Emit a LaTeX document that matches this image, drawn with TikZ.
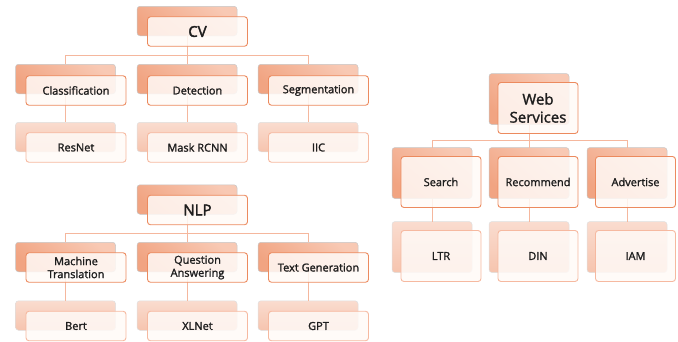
\documentclass[tikz,border=0pt]{standalone}
\usepackage{fontspec}
\setmainfont{Open Sans}[FakeBold=1.6]
\newfontfamily\titlefont{Open Sans}[FakeBold=2.4]
\usetikzlibrary{positioning}
\definecolor{bkA}{HTML}{F8C9B4}
\definecolor{bkB}{HTML}{F1A482}
\definecolor{bkC}{HTML}{FADCCF}
\definecolor{bkD}{HTML}{F6C4AE}
\definecolor{frEdge}{HTML}{EC8A5E}
\definecolor{frEdgeL}{HTML}{F6B9A0}
\definecolor{frFill}{HTML}{FFFAF7}
\definecolor{conn}{HTML}{F5B79D}
\definecolor{txt}{HTML}{1E1E1E}
\begin{document}
\begin{tikzpicture}[x=1pt,y=-1pt,
  every node/.style={inner sep=0pt, outer sep=0pt},
  backbox/.style={draw=gray!45, line width=0.5pt, rounded corners=3pt,
    top color=bkA, bottom color=bkB, shading angle=-40},
  backboxL/.style={backbox, draw=gray!25, top color=bkC, bottom color=bkD},
  frontbox/.style={draw=frEdge, line width=0.9pt, rounded corners=3pt,
    fill=frFill, fill opacity=0.85, text opacity=1, text=txt,
    align=center, font=\fontsize{11}{13}\selectfont},
  frontboxL/.style={frontbox, draw=frEdgeL},
  titlebox/.style={frontbox, font=\fontsize{15}{18}\selectfont\titlefont},
  wide/.style={minimum width=100pt, minimum height=29.5pt},
  tall/.style={minimum width=80pt, minimum height=51pt},
  conline/.style={draw=conn, line width=1pt}
]
\useasboundingbox (0,0) rectangle (678,341);

% ---------- CV ----------
\coordinate (cvbar) at (0,55);
\node[backbox,wide] (cvB) at (187,21) {};
\node[backbox,wide] (clsB) at (65.5,79) {};
\node[backbox,wide] (detB) at (187,79) {};
\node[backbox,wide] (segB) at (308,79) {};
\node[backboxL,wide] (resB) at (65.5,137) {};
\node[backboxL,wide] (maskB) at (187,137) {};
\node[backboxL,wide] (iicB) at (308,137) {};
\draw[conline] (cvB.south) -- (cvB.south |- cvbar);
\draw[conline] (clsB.north) -- (clsB.north |- cvbar) -- (segB.north |- cvbar) -- (segB.north);
\draw[conline] (detB.north) -- (detB.north |- cvbar);
\draw[conline] (clsB.south) -- (resB.north);
\draw[conline] (detB.south) -- (maskB.north);
\draw[conline] (segB.south) -- (iicB.north);
\node[titlebox,wide] (cv) at (197.5,31.5) {CV};
\node[frontbox,wide] (cls) at (76,90.5) {Classification};
\node[frontbox,wide] (det) at (197.5,90.5) {Detection};
\node[frontbox,wide] (seg) at (318.5,90.5) {Segmentation};
\node[frontboxL,wide] (res) at (76,147.5) {ResNet};
\node[frontboxL,wide] (mask) at (197.5,147.5) {Mask RCNN};
\node[frontboxL,wide] (iic) at (318.5,147.5) {IIC};

% ---------- NLP ----------
\coordinate (nlpbar) at (0,233);
\node[backbox,wide] (nlpB) at (187,199.5) {};
\node[backbox,wide] (mtB) at (65.5,257) {};
\node[backbox,wide] (qaB) at (187,257) {};
\node[backbox,wide] (tgB) at (308,257) {};
\node[backboxL,wide] (bertB) at (65.5,315.5) {};
\node[backboxL,wide] (xlB) at (187,315.5) {};
\node[backboxL,wide] (gptB) at (308,315.5) {};
\draw[conline] (nlpB.south) -- (nlpB.south |- nlpbar);
\draw[conline] (mtB.north) -- (mtB.north |- nlpbar) -- (tgB.north |- nlpbar) -- (tgB.north);
\draw[conline] (qaB.north) -- (qaB.north |- nlpbar);
\draw[conline] (mtB.south) -- (bertB.north);
\draw[conline] (qaB.south) -- (xlB.north);
\draw[conline] (tgB.south) -- (gptB.north);
\node[titlebox,wide] (nlp) at (197.5,210) {NLP};
\node[frontbox,wide] (mt) at (76,267.5) {Machine\\Translation};
\node[frontbox,wide] (qa) at (197.5,267.5) {Question\\Answering};
\node[frontbox,wide] (tg) at (318.5,267.5) {Text Generation};
\node[frontboxL,wide] (bert) at (76,326) {Bert};
\node[frontboxL,wide] (xl) at (197.5,326) {XLNet};
\node[frontboxL,wide] (gpt) at (318.5,326) {GPT};

% ---------- Web Services ----------
\coordinate (wsbar) at (0,140);
\node[backbox,tall] (wsB) at (529,99) {};
\node[backbox,tall] (srB) at (432,173) {};
\node[backbox,tall] (rcB) at (529,173) {};
\node[backbox,tall] (adB) at (627,173) {};
\node[backboxL,tall] (ltrB) at (432,247) {};
\node[backboxL,tall] (dinB) at (529,247) {};
\node[backboxL,tall] (iamB) at (627,247) {};
\draw[conline] (wsB.south) -- (wsB.south |- wsbar);
\draw[conline] (srB.north) -- (srB.north |- wsbar) -- (adB.north |- wsbar) -- (adB.north);
\draw[conline] (rcB.north) -- (rcB.north |- wsbar);
\draw[conline] (srB.south) -- (ltrB.north);
\draw[conline] (rcB.south) -- (dinB.north);
\draw[conline] (adB.south) -- (iamB.north);
\node[frontbox,tall,font=\fontsize{15}{18}\selectfont] (ws) at (538,108) {Web\\Services};
\node[frontbox,tall] (sr) at (441,182) {Search};
\node[frontbox,tall] (rc) at (538,182) {Recommend};
\node[frontbox,tall] (ad) at (635.5,182) {Advertise};
\node[frontboxL,tall] (ltr) at (441,256) {LTR};
\node[frontboxL,tall] (din) at (538,256) {DIN};
\node[frontboxL,tall] (iam) at (635.5,256) {IAM};
\end{tikzpicture}
\end{document}
